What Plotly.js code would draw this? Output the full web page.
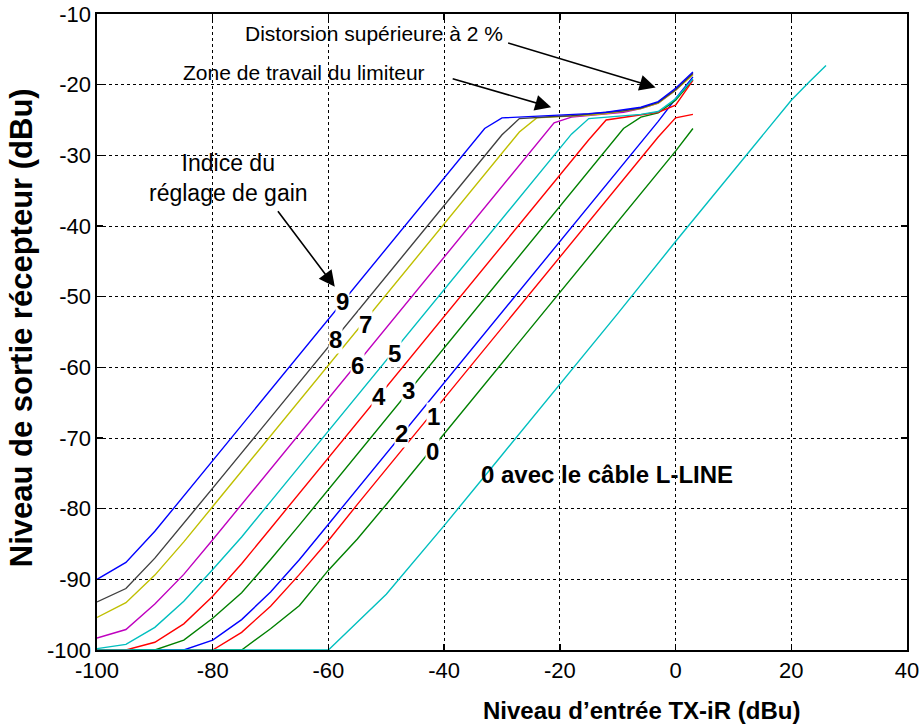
<!DOCTYPE html>
<html>
<head>
<meta charset="utf-8">
<script src="https://cdn.plot.ly/plotly-3.0.1.min.js"></script>
<style>html,body{margin:0;padding:0;background:#fff}#chart{width:923px;height:724px}</style>
</head>
<body>
<div id="chart"></div>
<script>
// Input levels (dBu) shared by gain-index curves 0..9
const xLevels = [-100,-95,-90,-85,-80,-75,-70,-65,-60,-55,-50,-45,-40,-36,-33,-30,-27,-24,-21,-18,-15,-12,-9,-6,-3,0,3];

const gain9 = [-90.0,-87.6,-83.2,-78.2,-73.1,-68.2,-63.2,-58.2,-53.2,-48.2,-43.2,-38.2,-33.2,-29.2,-26.2,-24.7,-24.6,-24.5,-24.4,-24.3,-24.1,-23.9,-23.6,-23.2,-22.4,-20.5,-18.2];
const gain8 = [-93.2,-91.3,-87.0,-82.1,-77.1,-72.1,-67.1,-62.1,-57.1,-52.1,-47.1,-42.1,-37.1,-33.1,-30.1,-27.1,-24.8,-24.6,-24.5,-24.4,-24.2,-24.0,-23.7,-23.3,-22.5,-20.7,-18.4];
const gain7 = [-95.4,-93.3,-89.4,-84.7,-79.7,-74.7,-69.7,-64.7,-59.7,-54.7,-49.7,-44.7,-39.7,-35.7,-32.7,-29.7,-26.7,-24.7,-24.6,-24.5,-24.3,-24.1,-23.8,-23.4,-22.6,-20.8,-18.6];
const gain6 = [-98.3,-97.1,-93.5,-89.3,-84.4,-79.4,-74.4,-69.4,-64.4,-59.4,-54.4,-49.4,-44.4,-40.4,-37.4,-34.4,-31.4,-28.4,-25.4,-24.6,-24.4,-24.2,-23.9,-23.4,-22.6,-20.8,-18.5];
const gain5 = [-99.8,-99.2,-96.8,-93.1,-88.6,-84.0,-79.0,-74.0,-69.0,-64.0,-59.0,-54.0,-49.0,-45.0,-42.0,-39.0,-36.0,-33.0,-30.0,-27.0,-24.8,-24.6,-24.4,-24.2,-23.8,-22.0,-19.2];
const gain4 = [-100,-100,-98.9,-96.3,-92.4,-87.8,-82.8,-77.8,-72.8,-67.8,-62.8,-57.8,-52.8,-48.8,-45.8,-42.8,-39.8,-36.8,-33.8,-30.8,-27.8,-25.0,-24.6,-24.3,-23.9,-22.9,-19.4];
const gain3 = [-100,-100,-100,-98.6,-95.5,-91.9,-87.2,-82.3,-77.3,-72.3,-67.3,-62.3,-57.3,-53.3,-50.3,-47.3,-44.3,-41.3,-38.3,-35.3,-32.3,-29.3,-26.2,-24.6,-24.0,-22.2,-19.3];
const gain2 = [-100,-100,-100,-100,-98.6,-95.7,-91.8,-87.2,-82.2,-77.2,-72.2,-67.2,-62.2,-58.2,-55.2,-52.2,-49.2,-46.2,-43.2,-40.2,-37.2,-34.2,-31.2,-28.2,-25.2,-22.0,-18.9];
const gain1 = [-100,-100,-100,-100,-100,-97.5,-93.8,-89.3,-84.5,-79.4,-74.4,-69.4,-64.4,-60.4,-57.4,-54.4,-51.4,-48.4,-45.4,-42.4,-39.4,-36.4,-33.4,-30.4,-27.4,-24.7,-24.2];
const gain0 = [-100,-100,-100,-100,-100,-100,-97.0,-93.7,-88.7,-84.3,-79.4,-74.4,-69.4,-65.4,-62.4,-59.4,-56.4,-53.4,-50.4,-47.4,-44.4,-41.4,-38.4,-35.4,-32.4,-29.4,-26.2];

// Gain index 0 with the L-LINE cable
const xLLine = [-100,-60,-50,-40,-30,-20,-10,0,10,18,20,23,26];
const yLLine = [-100,-100,-92.1,-82.4,-72.4,-62.4,-52.4,-42.2,-32.2,-24.3,-22.2,-19.7,-17.3];

const xTicks = [-100,-80,-60,-40,-20,0,20,40];
const yTicks = [-100,-90,-80,-70,-60,-50,-40,-30,-20,-10];

const series = [
  {name:'0', y:gain0, color:'#008000'},
  {name:'1', y:gain1, color:'#ff0000'},
  {name:'2', y:gain2, color:'#0000ff'},
  {name:'3', y:gain3, color:'#008000'},
  {name:'4', y:gain4, color:'#ff0000'},
  {name:'5', y:gain5, color:'#00bfbf'},
  {name:'6', y:gain6, color:'#bf00bf'},
  {name:'7', y:gain7, color:'#bfbf00'},
  {name:'8', y:gain8, color:'#404040'},
  {name:'9', y:gain9, color:'#0000ff'}
];

const FONT = 'Liberation Sans, Arial, sans-serif';
const traces = series.map(s => ({
  x: xLevels, y: s.y, type:'scatter', mode:'lines', name:s.name,
  line:{color:s.color, width:1.4}, hoverinfo:'skip'
}));
traces.push({x:xLLine, y:yLLine, type:'scatter', mode:'lines', name:'L-LINE',
  line:{color:'#00bfbf', width:1.4}, hoverinfo:'skip'});

function num(text, x, y){
  return {text:text, x:x, y:y, xref:'x', yref:'y', showarrow:false,
    xanchor:'center', yanchor:'middle',
    font:{family:FONT, size:24, color:'#000', weight:'bold'},
    bgcolor:'rgba(255,255,255,1)', borderpad:0};
}
function note(text, x, y, size){
  return {text:text, x:x, y:y, xref:'x', yref:'y', showarrow:false,
    xanchor:'center', yanchor:'middle',
    font:{family:FONT, size:size, color:'#000'}};
}
function arrow(x, y, ax, ay){
  return {text:'', x:x, y:y, xref:'x', yref:'y', ax:ax, ay:ay, showarrow:true,
    arrowhead:2, arrowsize:2, arrowwidth:1.6, arrowcolor:'#000', standoff:0};
}

const annotations = [
  note('Distorsion supérieure à 2 %', -52.2, -12.8, 21),
  note('Zone de travail du limiteur', -64.3, -18.3, 21),
  note('Indice du<br>réglage de gain', -77.3, -33.2, 23),
  arrow(-3.45, -20.4, -149, -45),
  arrow(-21.5, -23.2, -100, -29),
  arrow(-58.9, -48.6, -58, -77),
  num('9', -57.5, -50.7),
  num('8', -58.8, -56.1),
  num('7', -53.6, -53.9),
  num('6', -54.9, -59.7),
  num('5', -48.6, -58.0),
  num('4', -51.3, -64.1),
  num('3', -46.1, -63.3),
  num('2', -47.4, -69.4),
  num('1', -41.8, -66.9),
  num('0', -42.0, -71.9),
  {text:'0 avec le câble L-LINE', x:-33.9, y:-75.2, xref:'x', yref:'y', xanchor:'left', yanchor:'middle',
    showarrow:false, font:{family:FONT, size:24, color:'#000', weight:'bold'}},
  {text:'Niveau d’entrée TX-iR (dBu)', x:0.672, y:-0.095, xref:'paper', yref:'paper',
    xanchor:'center', yanchor:'middle',
    showarrow:false, font:{family:FONT, size:24, color:'#000', weight:'bold'}},
  {text:'Niveau de sortie récepteur (dBu)', x:-0.093, y:0.507, xref:'paper', yref:'paper',
    xanchor:'center', yanchor:'middle',
    textangle:-90, showarrow:false, font:{family:FONT, size:31, color:'#000', weight:'bold'}}
];

const axisCommon = {
  showgrid:true, gridcolor:'#000', griddash:'dot', gridwidth:1,
  showline:true, linecolor:'#000', linewidth:1.6, mirror:'ticks',
  ticks:'inside', ticklen:6, tickcolor:'#000', tickwidth:1.3,
  zeroline:false, tickfont:{family:FONT, size:22, color:'#000'}
};

const layout = {
  width:923, height:724,
  margin:{l:97, r:16, t:13.5, b:73.5},
  paper_bgcolor:'#fff', plot_bgcolor:'#fff',
  showlegend:false,
  xaxis:Object.assign({}, axisCommon, {range:[-100,40], tickvals:xTicks, ticktext:xTicks.map(String)}),
  yaxis:Object.assign({}, axisCommon, {range:[-100,-10], tickvals:yTicks, ticktext:yTicks.map(String)}),
  annotations:annotations
};

Plotly.newPlot('chart', traces, layout, {displayModeBar:false, staticPlot:true});
</script>
</body>
</html>
